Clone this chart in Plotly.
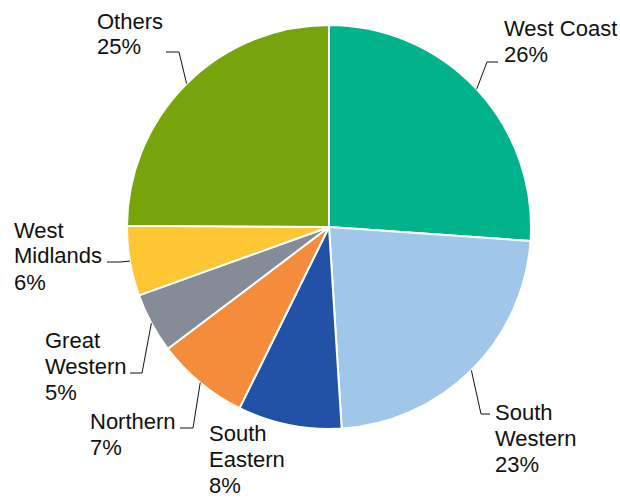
import math
import plotly.graph_objects as go

# ---- data ----
operators = ["West Coast", "South Western", "South Eastern", "Northern",
             "Great Western", "West Midlands", "Others"]
shares = [26.1, 22.9, 8.3, 7.4, 4.8, 5.6, 24.9]
label_lines = [["West Coast"], ["South", "Western"], ["South", "Eastern"], ["Northern"],
               ["Great", "Western"], ["West", "Midlands"], ["Others"]]
colors = ["#00B38A", "#A0C6E9", "#2251A8", "#F38D3C", "#868C97", "#FFC634", "#76A40A"]

# ---- layout constants (page pixels) ----
W, H = 620, 499
CX, CY, R = 329, 227, 202
FONT = dict(family="Liberation Sans, Arial, sans-serif", size=22, color="#111111")
LINE_STEP = 26
# first-line left x, first-line centre y
label_pos = [(502, 28), (493, 412), (207, 433), (88, 421), (43, 340), (12, 230), (95, 21)]
# leader: (start x near text, elbow x, y) or None
leaders = [(498, 487, 62), (490, 481, 414), None, (180, 193, 428),
           (130, 142, 373), (107, 120, 262), (166, 179, 52)]


def px(x):
    return x / W


def py(y):
    return 1 - y / H


fig = go.Figure(go.Pie(
    labels=operators, values=shares, sort=False, direction="clockwise", rotation=0,
    marker=dict(colors=colors, line=dict(color="white", width=2)),
    textinfo="none", hoverinfo="label+percent",
    domain=dict(x=[px(CX - R), px(CX + R)], y=[py(CY + R), py(CY - R)]),
    showlegend=False,
))

total = sum(shares)
annotations = []
shapes = []
cum = 0.0
for i, v in enumerate(shares):
    mid = (cum + v / 2) / total * 2 * math.pi
    cum += v
    lines = label_lines[i] + [f"{round(v / total * 100)}%"]
    x0, y0 = label_pos[i]
    for k, t in enumerate(lines):
        annotations.append(dict(
            x=px(x0), y=py(y0 + k * LINE_STEP), xref="paper", yref="paper",
            text=t, showarrow=False, xanchor="left", yanchor="middle", font=FONT))
    if leaders[i] is not None:
        sx, ex, ly = leaders[i]
        tx = CX + R * math.sin(mid)
        ty = CY - R * math.cos(mid)
        path = f"M {px(sx)},{py(ly)} L {px(ex)},{py(ly)} L {px(tx)},{py(ty)}"
        shapes.append(dict(type="path", path=path, xref="paper", yref="paper",
                           line=dict(color="#111111", width=1)))

fig.update_layout(
    width=W, height=H, margin=dict(l=0, r=0, t=0, b=0),
    paper_bgcolor="white", plot_bgcolor="white",
    annotations=annotations, shapes=shapes,
)

fig.write_html(
    "out.html",
    config={"displayModeBar": False},
    post_script="document.body.style.margin='0';document.body.style.overflow='hidden';",
)
